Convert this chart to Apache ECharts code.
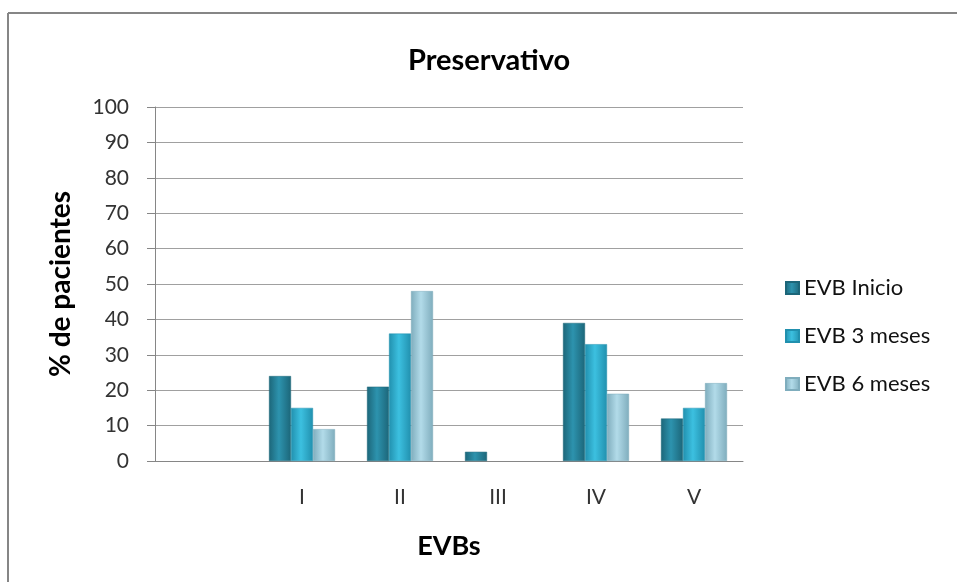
<!DOCTYPE html>
<html>
<head>
<meta charset="utf-8">
<script src="https://cdn.jsdelivr.net/npm/echarts@6/dist/echarts.min.js"></script>
<style>
  html, body { margin: 0; padding: 0; background: #fff; }
  #chart { width: 957px; height: 582px; }
</style>
</head>
<body>
<div id="chart"></div>
<script>
  // categories (first one is an empty slot, as in the original sheet)
  const categories = ['', 'I', 'II', 'III', 'IV', 'V']
  const seriesNames = ['EVB Inicio', 'EVB 3 meses', 'EVB 6 meses']
  const inicio = [null, 24, 21, 2.6, 39, 12]
  const tresMeses = [null, 15, 36, null, 33, 15]
  const seisMeses = [null, 9, 48, null, 19, 22]
  const yTicks = [0, 10, 20, 30, 40, 50, 60, 70, 80, 90, 100]

  const font = 'Lato, "Open Sans", sans-serif'
  const gray = '#868686'

  // edge / middle colours for each series, gives the rounded look
  const barColors = [
    ['#1c6679', '#2d93ae', '#1c6679'],
    ['#2190ae', '#3cc0e0', '#2190ae'],
    ['#7fadbd', '#b2dbe9', '#7fadbd']
  ]

  function grad(c) {
    return new echarts.graphic.LinearGradient(0, 0, 1, 0, [
      { offset: 0, color: c[0] },
      { offset: 0.45, color: c[1] },
      { offset: 1, color: c[2] }
    ])
  }

  const allData = [inicio, tresMeses, seisMeses]

  const myChart = echarts.init(document.getElementById('chart'))
  myChart.setOption({
    animation: false,
    textStyle: { fontFamily: font },
    graphic: [
      { type: 'line', shape: { x1: 8, y1: 13, x2: 957, y2: 13 }, style: { stroke: gray, lineWidth: 2 } },
      { type: 'line', shape: { x1: 8, y1: 13, x2: 8, y2: 582 }, style: { stroke: gray, lineWidth: 2 } }
    ],
    title: {
      text: 'Preservativo',
      left: 403,
      top: 41,
      textStyle: { fontFamily: font, fontSize: 29, fontWeight: 'bold', color: '#000' }
    },
    legend: {
      orient: 'vertical',
      left: 780,
      top: 272,
      itemWidth: 13,
      itemHeight: 12,
      itemGap: 26,
      icon: 'rect',
      textStyle: { fontFamily: font, fontSize: 22, color: '#111' },
      data: seriesNames
    },
    grid: { left: 155, right: 214, top: 107, bottom: 121 },
    xAxis: {
      type: 'category',
      data: categories,
      name: 'EVBs',
      nameLocation: 'middle',
      nameGap: 72,
      nameTextStyle: { fontFamily: font, fontSize: 27, fontWeight: 'bold', color: '#000' },
      axisLine: { lineStyle: { color: gray } },
      axisTick: { length: 6, lineStyle: { color: gray } },
      axisLabel: { fontSize: 21, color: '#333', margin: 26 }
    },
    yAxis: {
      type: 'value',
      min: yTicks[0],
      max: yTicks[yTicks.length - 1],
      interval: 10,
      name: '% de pacientes',
      nameLocation: 'middle',
      nameGap: 80,
      nameTextStyle: { fontFamily: font, fontSize: 28, fontWeight: 'bold', color: '#000' },
      axisLine: { show: true, lineStyle: { color: gray } },
      axisTick: { show: true, length: 8, lineStyle: { color: gray } },
      axisLabel: { fontSize: 21, color: '#333', margin: 26 },
      splitLine: { lineStyle: { color: '#a0a0a0' } }
    },
    series: seriesNames.map((name, i) => ({
      name: name,
      type: 'bar',
      data: allData[i],
      barWidth: 22,
      barGap: '0%',
      itemStyle: {
        color: grad(barColors[i]),
        borderColor: barColors[i][0],
        borderWidth: 0.5
      }
    }))
  })
</script>
</body>
</html>
